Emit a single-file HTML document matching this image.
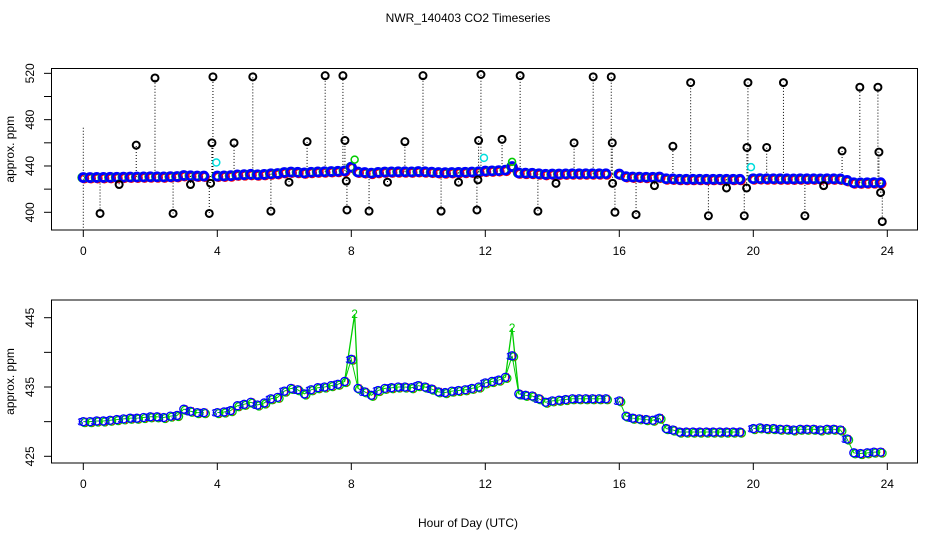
<!DOCTYPE html>
<html><head><meta charset="utf-8"><style>
body{margin:0;background:#fff}
svg{display:block;font-family:"Liberation Sans",sans-serif}
</style></head><body>
<svg id="c" width="936" height="540" viewBox="0 0 936 540">
<text x="468" y="22" text-anchor="middle" font-size="12">NWR_140403  CO2 Timeseries</text>
<text x="468" y="527" text-anchor="middle" font-size="12">Hour of Day (UTC)</text>
<g id="topPanel"></g>
<g id="botPanel"></g>
</svg>
<script>
const hourTicks=[0,4,8,12,16,20,24];
const topTicks=[400,420,440,460,480,500,520];
const topLabels=[400,440,480,520];
const botTicks=[425,430,435,440,445];
const botLabels=[425,435,445];
const times=[];for(let i=0;i<120;i++)times.push(+(i*0.2).toFixed(1));
const co2=[430.0,430.0,430.1,430.1,430.2,430.3,430.4,430.5,430.5,430.6,
430.7,430.7,430.6,430.8,430.9,431.8,431.5,431.3,431.3,null,
431.3,431.4,431.6,432.3,432.5,432.8,432.4,432.7,433.3,433.5,
434.4,434.8,434.6,434.0,434.6,434.9,435.0,435.2,435.4,435.8,
439.0,434.8,434.3,433.8,434.5,434.8,434.9,435.0,435.0,434.9,
435.2,435.0,434.7,434.3,434.2,434.4,434.5,434.6,434.8,435.0,
435.6,435.8,436.0,436.4,439.5,434.0,433.8,433.7,433.3,432.8,
433.0,433.1,433.2,433.3,433.3,433.3,433.3,433.3,433.3,null,
433.0,430.8,430.5,430.4,430.3,430.2,430.5,429.0,428.8,428.5,
428.5,428.5,428.5,428.5,428.5,428.5,428.5,428.5,428.5,null,
429.0,429.1,429.0,429.0,428.9,428.9,428.8,428.9,428.9,428.9,
428.8,428.9,428.9,428.8,427.5,425.5,425.4,425.5,425.6,425.6];
const spikeHours=[8.1,12.8];
const spikeValues=[445.5,443.5];
const outHours=[0.5,1.07,1.58,2.14,2.68,3.2,3.76,3.8,3.84,3.87,4.5,5.06,5.6,6.14,6.68,7.22,7.75,7.81,7.85,7.87,8.53,9.08,9.6,10.14,10.68,11.2,11.75,11.78,11.8,11.87,12.5,13.04,13.57,14.11,14.65,15.22,15.76,15.79,15.8,15.87,16.5,17.05,17.6,18.13,18.66,19.2,19.73,19.8,19.81,19.84,20.4,20.9,21.54,22.1,22.65,23.18,23.72,23.75,23.8,23.85];
const outValues=[399,424,458,516,399,424,399,425,460,517,460,517,401,426,461,518,518,462,427,402,401,426,461,518,401,426,402,428,462,519,463,518,401,425,460,517,517,460,425,400,398,423,457,512,397,421,397,421,456,512,456,512,397,423,453,508,508,452,417,392];
const cyanHours=[3.97,11.96,19.93];
const cyanValues=[443,447,439];
const NS='http://www.w3.org/2000/svg';
const X=h=>83.3+h*33.5;
const Yt=v=>212.3-(v-400)*1.158;
const Yb=v=>387-(v-435)*6.93;
function mk(p,tag,at){const e=document.createElementNS(NS,tag);for(const k in at)e.setAttribute(k,at[k]);p.appendChild(e);return e;}
function axes(g,y0,y1,Y,ticks,labels,prefix){
  const box=mk(g,'rect',{x:51.5,y:y0,width:866,height:y1-y0,fill:'none',stroke:'#000'});
  
  
  hourTicks.forEach(h=>{
    mk(g,'line',{x1:X(h),x2:X(h),y1:y1,y2:y1+7,stroke:'#000'});
    const t=mk(g,'text',{x:X(h),y:y1+25,'text-anchor':'middle','font-size':12});
    t.textContent=h;
    
    
  });
  ticks.forEach(v=>{mk(g,'line',{x1:44,x2:51.5,y1:Y(v),y2:Y(v),stroke:'#000'});});
  labels.forEach(v=>{
    const t=mk(g,'text',{x:0,y:0,'text-anchor':'middle','font-size':12,transform:`translate(34,${Y(v)}) rotate(-90)`});
    t.textContent=v;
    
    
  });
  const yt=mk(g,'text',{x:0,y:0,'text-anchor':'middle','font-size':12,transform:`translate(14,${(y0+y1)/2}) rotate(-90)`});
  yt.textContent='approx. ppm';
  
  
}
const topG=document.getElementById('topPanel'),botG=document.getElementById('botPanel');
axes(topG,68.5,230,Yt,topTicks,topLabels,'top');
axes(botG,300,463,Yb,botTicks,botLabels,'bottom');
function baseAt(h){const i=Math.min(119,Math.round(h/0.2));let v=co2[i];if(v==null)v=(co2[i-1]!=null?co2[i-1]:co2[i+1]);return v;}
outHours.forEach((h,i)=>{
  mk(topG,'line',{x1:X(h),x2:X(h),y1:Yt(baseAt(h)),y2:Yt(outValues[i]),stroke:'#000','stroke-dasharray':'1,2'});
});
mk(topG,'line',{x1:X(0),x2:X(0),y1:Yt(473),y2:230,stroke:'#000','stroke-dasharray':'1,2'});
times.forEach((h,i)=>{
  const v=co2[i];if(v==null)return;
  const r=mk(topG,'circle',{cx:X(h)+1,cy:Yt(v)+1,r:4,fill:'none',stroke:'#f00','stroke-width':2});
  
  const g=mk(topG,'circle',{cx:X(h)-1,cy:Yt(v),r:4,fill:'none',stroke:'#0c0','stroke-width':2});
  
  const b=mk(topG,'circle',{cx:X(h),cy:Yt(v),r:4,fill:'none',stroke:'#00f','stroke-width':2.8});
  
});
spikeHours.forEach((h,i)=>{
  const c=mk(topG,'circle',{cx:X(h),cy:Yt(spikeValues[i]),r:3.5,fill:'none',stroke:'#0c0','stroke-width':1.5});
  
});
cyanHours.forEach((h,i)=>{
  const c=mk(topG,'circle',{cx:X(h),cy:Yt(cyanValues[i]),r:3.5,fill:'none',stroke:'#0dd','stroke-width':1.5});
  
});
outHours.forEach((h,i)=>{
  const c=mk(topG,'circle',{cx:X(h),cy:Yt(outValues[i]),r:3.5,fill:'none',stroke:'#000','stroke-width':2});
  
});
let d='';times.forEach((h,i)=>{const v=co2[i];if(v==null){d+=' ';return;}d+=(d===''||d.endsWith(' ')?'M':'L')+X(h)+','+Yb(v);});
mk(botG,'path',{d:d,fill:'none',stroke:'#0c0','stroke-width':1});
spikeHours.forEach((h,i)=>{
  const j=Math.round(h/0.2);
  mk(botG,'polyline',{points:`${X(times[j-1])},${Yb(co2[j-1])} ${X(h)},${Yb(spikeValues[i])} ${X(times[j+1])},${Yb(co2[j+1])}`,fill:'none',stroke:'#0c0','stroke-width':1.3});
  const t=mk(botG,'text',{x:X(h),y:Yb(spikeValues[i])+4,'text-anchor':'middle','font-size':12,fill:'#0c0'});
  t.textContent='2';
});
times.forEach((h,i)=>{
  const v=co2[i];if(v==null)return;
  const g=mk(botG,'circle',{cx:X(h)+1.5,cy:Yb(v)+1,r:4,fill:'none',stroke:'#0c0','stroke-width':1.3});
  
  mk(botG,'line',{x1:X(h)+3,x2:X(h)+3,y1:Yb(v)-4,y2:Yb(v)+5,stroke:'#f00','stroke-width':1});
  const b=mk(botG,'circle',{cx:X(h),cy:Yb(v),r:4,fill:'none',stroke:'#00f','stroke-width':1.3});
  
  if(i%2===0){const t=mk(botG,'text',{x:X(h)-3,y:Yb(v)+4,'text-anchor':'middle','font-size':11,fill:'#00f'});
    t.textContent='3';}
});
</script>
</body></html>
